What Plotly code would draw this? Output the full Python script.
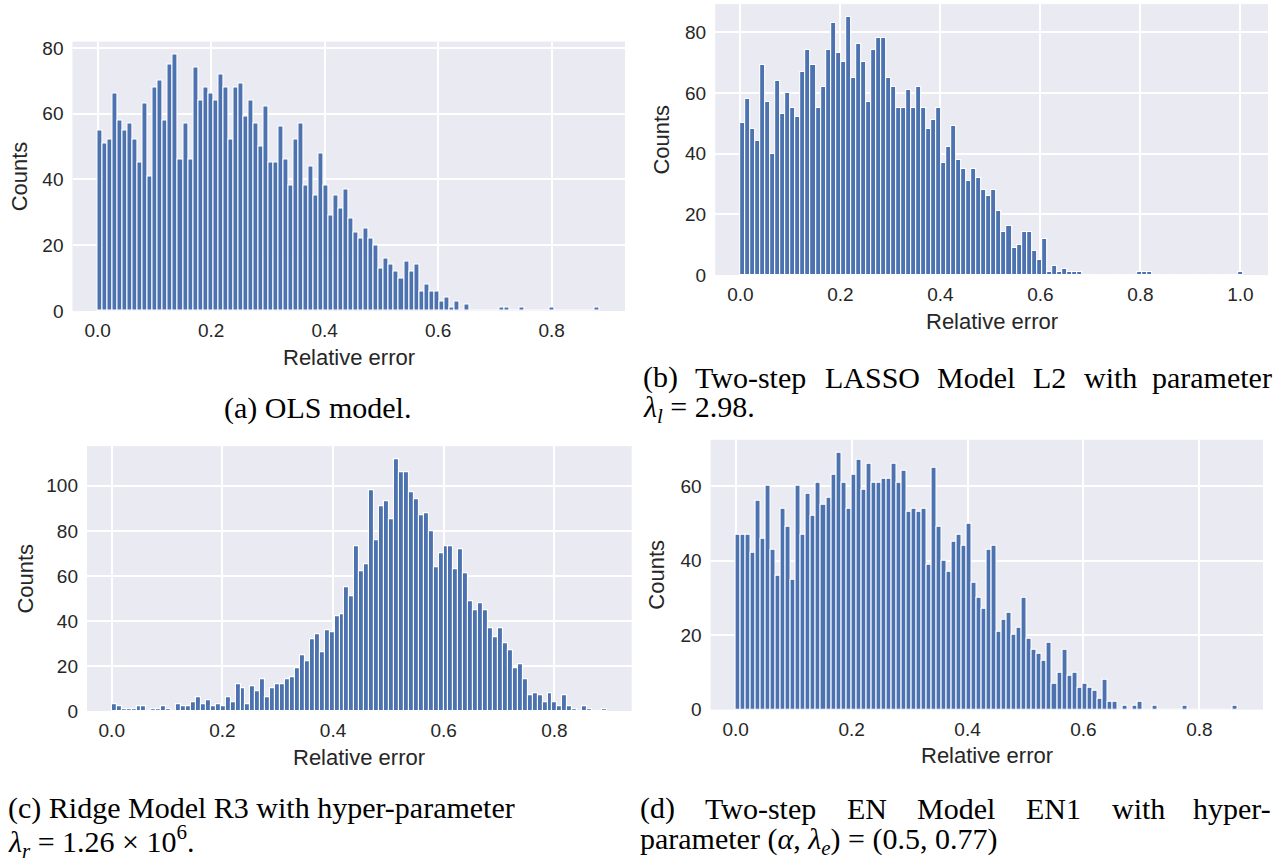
import plotly.graph_objects as go

W, H = 1286, 863

# ---------------- data (histogram counts, 100 bins each) ----------------
counts_a = [55, 51, 52, 66, 58, 55, 57, 52, 45, 63, 41, 68, 70, 58, 75, 78, 46, 57, 46, 74,
            64, 68, 66, 64, 72, 68, 52, 68, 69, 59, 64, 57, 50, 62, 45, 45, 56, 46, 38, 52,
            57, 38, 44, 35, 48, 38, 29, 35, 31, 37, 28, 24, 22, 25, 22, 20, 13, 16, 14, 12,
            10, 15, 12, 14, 6, 8, 6, 6, 3, 4, 1, 3, 0, 2, 0, 0, 0, 0, 0, 0,
            1, 1, 0, 0, 1, 0, 0, 0, 0, 0, 1, 0, 0, 0, 0, 0, 0, 0, 0, 1]
counts_b = [50, 58, 48, 44, 69, 57, 40, 64, 53, 60, 55, 52, 67, 74, 69, 55, 62, 74, 83, 73,
            70, 85, 65, 76, 70, 57, 74, 78, 78, 65, 62, 55, 55, 61, 55, 62, 55, 48, 51, 55,
            37, 42, 49, 38, 35, 31, 35, 32, 28, 26, 28, 21, 14, 16, 9, 10, 14, 14, 8, 5,
            12, 1, 3, 1, 2, 1, 1, 1, 0, 0, 0, 0, 0, 0, 0, 0, 0, 0, 0, 1,
            1, 1, 0, 0, 0, 0, 0, 0, 0, 0, 0, 0, 0, 0, 0, 0, 0, 0, 0, 1]
counts_c = [3, 2, 1, 1, 1, 2, 2, 0, 1, 1, 2, 1, 0, 3, 2, 2, 4, 6, 3, 5,
            2, 3, 2, 6, 4, 12, 10, 3, 11, 9, 14, 6, 10, 12, 12, 14, 15, 19, 25, 22,
            32, 34, 26, 36, 35, 42, 43, 55, 51, 73, 62, 65, 98, 76, 91, 93, 85, 112, 106, 106,
            97, 94, 87, 88, 80, 64, 70, 73, 73, 63, 72, 61, 49, 45, 48, 45, 37, 33, 37, 30,
            27, 19, 21, 14, 7, 8, 7, 4, 8, 4, 2, 7, 2, 1, 0, 2, 1, 0, 0, 1]
counts_d = [47, 47, 47, 42, 56, 46, 60, 43, 36, 54, 49, 35, 60, 47, 58, 52, 61, 55, 57, 63,
            69, 61, 54, 63, 67, 59, 66, 61, 61, 62, 62, 66, 61, 64, 53, 54, 53, 54, 39, 65,
            49, 40, 37, 45, 47, 44, 50, 34, 30, 27, 43, 44, 21, 24, 26, 20, 22, 30, 19, 16,
            15, 13, 18, 7, 10, 16, 9, 10, 6, 7, 6, 5, 3, 8, 2, 2, 0, 1, 0, 1,
            2, 0, 0, 1, 0, 0, 0, 0, 0, 1, 0, 0, 0, 0, 0, 0, 0, 0, 0, 1]

# upper end of the relative-error range of each histogram (lower end is 0)
hist_max = [0.885, 1.005, 0.895, 0.8665]
n_bins = 100

xticks_a = [0.0, 0.2, 0.4, 0.6, 0.8]
xticks_b = [0.0, 0.2, 0.4, 0.6, 0.8, 1.0]
yticks_ab = [0, 20, 40, 60, 80]
yticks_c = [0, 20, 40, 60, 80, 100]
yticks_d = [0, 20, 40, 60]

x_label = "Relative error"
y_label = "Counts"

# ---------------- styling ----------------
BAR = "#4c72b0"
BG = "#eaeaf2"
TXT = "#262626"
SANS = "Liberation Sans, Arial, sans-serif"
SERIF = "Liberation Serif, Times New Roman, serif"
TICK_SIZE = 19
LABEL_SIZE = 22
CAP_SIZE = 30

# small vertical correction so that the captured page lines up with the reference
V_OFF, V_SCALE = 4.1, 0.982


def px(x):
    return x / W


def py(y):
    ys = (y - V_OFF) / V_SCALE
    ys = min(max(ys, 0.0), H)
    return 1 - ys / H


# plot-area boxes in reference pixels: (left, top, right, bottom)
boxes = [(72.5, 41.7, 625.0, 311.0),
         (715.2, 4.2, 1268.0, 275.0),
         (87.0, 446.0, 631.7, 710.7),
         (710.6, 439.6, 1263.0, 709.3)]
panels = [(counts_a, xticks_a, yticks_ab),
          (counts_b, xticks_b, yticks_ab),
          (counts_c, xticks_a, yticks_c),
          (counts_d, xticks_a, yticks_d)]

fig = go.Figure()
layout = dict(width=W, height=H, margin=dict(l=0, r=0, t=0, b=0),
              paper_bgcolor="white", plot_bgcolor=BG, showlegend=False,
              bargap=0, annotations=[])

for i, ((counts, xt, yt), box, hm) in enumerate(zip(panels, boxes, hist_max)):
    k = "" if i == 0 else str(i + 1)
    w = hm / n_bins
    centers = [(j + 0.5) * w for j in range(n_bins)]
    fig.add_trace(go.Bar(x=centers, y=counts, width=w,
                         marker=dict(color=BAR, line=dict(color="white", width=1.1)),
                         xaxis="x" + k, yaxis="y" + k, hoverinfo="skip"))
    l, t, r, b = box
    layout["xaxis" + k] = dict(domain=[px(l), px(r)], range=[-0.05 * hm, 1.05 * hm],
                               anchor="y" + k, showgrid=True, gridcolor="white", gridwidth=1.7,
                               zeroline=False, showline=False, ticks="",
                               tickvals=xt, ticktext=[f"{v:.1f}" for v in xt],
                               tickfont=dict(family=SANS, size=TICK_SIZE, color=TXT),
                               ticklabelstandoff=6, fixedrange=True)
    layout["yaxis" + k] = dict(domain=[py(b), py(t)], range=[0, 1.05 * max(counts)],
                               anchor="x" + k, showgrid=True, gridcolor="white", gridwidth=1.7,
                               zeroline=False, showline=False, ticks="",
                               tickvals=yt, ticktext=[str(v) for v in yt],
                               tickfont=dict(family=SANS, size=TICK_SIZE, color=TXT),
                               ticklabelstandoff=8, fixedrange=True)

# axis titles
xlab_y = [357, 321, 757, 755]
ylab_x = [19, 662, 26, 657]
for box, yy, xx in zip(boxes, xlab_y, ylab_x):
    l, t, r, b = box
    layout["annotations"].append(dict(text=x_label, x=px((l + r) / 2), y=py(yy), xref="paper", yref="paper",
                                      xanchor="center", yanchor="middle", showarrow=False,
                                      font=dict(family=SANS, size=LABEL_SIZE, color=TXT)))
    layout["annotations"].append(dict(text=y_label, x=px(xx), y=py((t + b) / 2), xref="paper", yref="paper",
                                      xanchor="center", yanchor="middle", showarrow=False, textangle=-90,
                                      font=dict(family=SANS, size=LABEL_SIZE, color=TXT)))


def cap(text, x, y, anchor):
    layout["annotations"].append(dict(text=text, x=px(x), y=py(y), xref="paper", yref="paper",
                                      xanchor=anchor, yanchor="middle", showarrow=False,
                                      font=dict(family=SERIF, size=CAP_SIZE, color="black")))


# (a)
cap("(a) OLS model.", 317, 408, "center")
# (b) justified first line
cap("(b)", 641, 377, "left")
for word, cx in [("Two-step", 750), ("LASSO", 872), ("Model", 976), ("L2", 1049), ("with", 1110)]:
    cap(word, cx, 377, "center")
cap("parameter", 1274, 377, "right")
cap("<i>λ<sub>l</sub></i> = 2.98.", 641, 409, "left")
# (c)
cap("(c) Ridge Model R3 with hyper-parameter", 6, 808, "left")
cap("<i>λ<sub>r</sub></i> = 1.26 × 10<sup>6</sup>.", 6, 841, "left")
# (d) justified first line
cap("(d)", 638, 808, "left")
for word, cx in [("Two-step", 760), ("EN", 867), ("Model", 956), ("EN1", 1053), ("with", 1138)]:
    cap(word, cx, 808, "center")
cap("hyper-", 1273, 808, "right")
cap("parameter (<i>α</i>, <i>λ<sub>e</sub></i>) = (0.5, 0.77)", 638, 841, "left")

fig.update_layout(**layout)
page_fix = ("var s=document.documentElement.style, b=document.body.style;"
            "s.margin='0';s.padding='0';s.overflow='hidden';s.height='863px';"
            "b.margin='0';b.padding='0';b.overflow='hidden';b.height='863px';")
fig.write_html("out.html", config={"displayModeBar": False}, post_script=page_fix)
